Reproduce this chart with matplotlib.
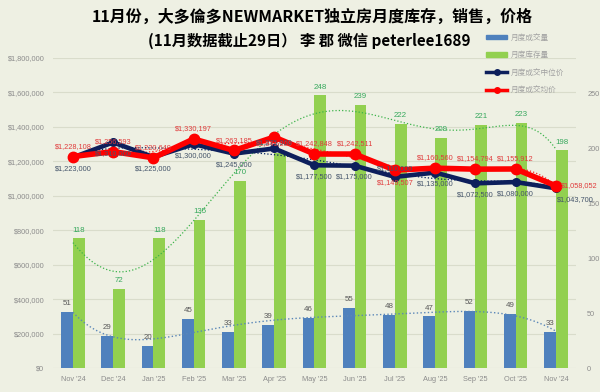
import numpy as np
import matplotlib
matplotlib.use('Agg')
import matplotlib.pyplot as plt
from matplotlib.lines import Line2D
from matplotlib.patches import Patch

# data
months = ["Nov '24", "Dec '24", "Jan '25", "Feb '25", "Mar '25", "Apr '25", "May '25",
          "Jun '25", "Jul '25", "Aug '25", "Sep '25", "Oct '25", "Nov '24"]
sales = [51, 29, 20, 45, 33, 39, 46, 55, 48, 47, 52, 49, 33]
inventory = [118, 72, 118, 135, 170, 196, 248, 239, 222, 209, 221, 223, 198]
median_price = [1223000, 1310000, 1225000, 1300000, 1245000, 1275000, 1177500,
                1175000, 1110000, 1135000, 1072500, 1080000, 1043700]
avg_price = [1228108, 1256593, 1220640, 1330197, 1263185, 1341209, 1242848,
             1242511, 1149507, 1160560, 1154794, 1155912, 1058052]

bg = '#eef0e3'
cjk = ['Noto Sans CJK SC', 'DejaVu Sans']
lab_font = 'Liberation Sans'
grey = '#8c8c8c'
fs = 5.3

fig = plt.figure(figsize=(6, 3.92), dpi=100, facecolor=bg)
rect = [0.088, 0.061, 0.872, 0.791]
ax = fig.add_axes(rect)            # price axis (left), grid
ax.set_facecolor(bg)
axc = ax.twinx()                   # counts (right), bars
axl = fig.add_axes(rect, sharex=ax, sharey=ax)  # lines on top
axl.patch.set_visible(False)
axl.axis('off')

x = np.arange(len(months))
xs = np.linspace(0, len(months) - 1, 300)

# bars
w = 0.29
axc.bar(x - 0.145, sales, w, color='#4f81bd', zorder=2)
axc.bar(x + 0.145, inventory, w, color='#92d050', zorder=2)
for i in range(len(x)):
    axc.annotate(str(sales[i]), (x[i] - 0.145, sales[i]), xytext=(0, 6), textcoords='offset points',
                 ha='center', va='center', fontsize=fs + 0.4, family=lab_font, color='#595959', zorder=5)
    if i != 5:
        axc.annotate(str(inventory[i]), (x[i] + 0.145, inventory[i]), xytext=(0, 6),
                     textcoords='offset points', ha='center', va='center', fontsize=fs + 0.4,
                     family=lab_font, color='#36a85c', zorder=5)

# trend lines
axc.plot(xs, np.polyval(np.polyfit(x, inventory, 6), xs), ':', color='#3cb34a', lw=0.9, zorder=4)
axc.plot(xs, np.polyval(np.polyfit(x, sales, 6), xs), ':', color='#5b87b8', lw=1.0, zorder=4)

axc.set_ylim(0, 282)
axc.set_yticks([0, 50, 100, 150, 200, 250])
axc.tick_params(axis='y', length=0, labelsize=fs, labelcolor=grey, pad=8)
for t in axc.get_yticklabels():
    t.set_family(lab_font)

# price lines
axl.plot(xs, np.polyval(np.polyfit(x, median_price, 6), xs), ':', color='#002060', lw=0.9, zorder=3)
axl.plot(xs, np.polyval(np.polyfit(x, avg_price, 6), xs), ':', color='#ff2020', lw=0.9, zorder=3)
axl.plot(x, median_price, '-o', color='#0d1f5c', lw=3.3, ms=5.5, zorder=4)
axl.plot(x, avg_price, '-o', color='#ff0000', lw=4, ms=7.5, zorder=5)

red_off = [(0, 7.5)] * 13
navy_off = [(0, -8)] * 13
red_off[5] = (0, -5)
navy_off[5] = (0, 4)
red_off[8] = (0, -9)
navy_off[8] = (0, 6)
for i in range(len(x)):
    if i == 12:
        continue
    axl.annotate('${:,}'.format(avg_price[i]), (x[i], avg_price[i]), xytext=red_off[i],
                 textcoords='offset points', ha='center', va='center', fontsize=fs,
                 family=lab_font, color='#e03c3c', zorder=6)
    axl.annotate('${:,}'.format(median_price[i]), (x[i], median_price[i]), xytext=navy_off[i],
                 textcoords='offset points', ha='center', va='center', fontsize=fs,
                 family=lab_font, color='#44546a', zorder=6)
axl.annotate('${:,}'.format(avg_price[12]), (x[12], avg_price[12]), xytext=(4, 0),
             textcoords='offset points', ha='left', va='center', fontsize=fs, family=lab_font,
             color='#e03c3c', zorder=6)
axl.annotate('${:,}'.format(median_price[12]), (x[12], median_price[12]), xytext=(1, -8),
             textcoords='offset points', ha='left', va='center', fontsize=fs, family=lab_font,
             color='#44546a', zorder=6)

ax.set_xlim(-0.5, len(months) - 0.5)
ax.set_ylim(0, 1800000)
ax.set_yticks(np.arange(0, 1800001, 200000))
ax.set_yticklabels(['${:,}'.format(v) for v in range(0, 1800001, 200000)])
ax.set_xticks(x)
ax.set_xticklabels(months)
ax.tick_params(axis='both', length=0, labelsize=fs, labelcolor=grey)
ax.tick_params(axis='y', pad=6)
ax.tick_params(axis='x', pad=6)
for t in ax.get_yticklabels() + ax.get_xticklabels():
    t.set_family(lab_font)
ax.grid(axis='y', color='#d9dccb', lw=0.8)
ax.set_axisbelow(True)
for a in (ax, axc):
    for s in a.spines.values():
        s.set_visible(False)

fig.text(0.52, 0.957, '11月份，大多倫多NEWMARKET独立房月度库存，销售，价格',
         ha='center', va='center', fontsize=11.5, fontweight='bold', family=cjk)
fig.text(0.515, 0.895, '(11月数据截止29日） 李 郡 微信 peterlee1689',
         ha='center', va='center', fontsize=11, fontweight='bold', family=cjk)

handles = [Patch(color='#4f81bd'), Patch(color='#92d050'),
           Line2D([], [], color='#0d1f5c', lw=2.5, marker='o', ms=4),
           Line2D([], [], color='#ff0000', lw=2.5, marker='o', ms=4)]
labels = ['月度成交量', '月度库存量', '月度成交中位价', '月度成交均价']
fig.legend(handles, labels, loc='upper left', bbox_to_anchor=(0.805, 0.922), frameon=False,
           prop={'family': cjk, 'size': 5.5}, labelcolor='#a0a0a0', handlelength=2.8,
           handleheight=0.6, handletextpad=0.4, labelspacing=1.25, borderaxespad=0)

fig.savefig('out.png', dpi=100, facecolor=bg)
